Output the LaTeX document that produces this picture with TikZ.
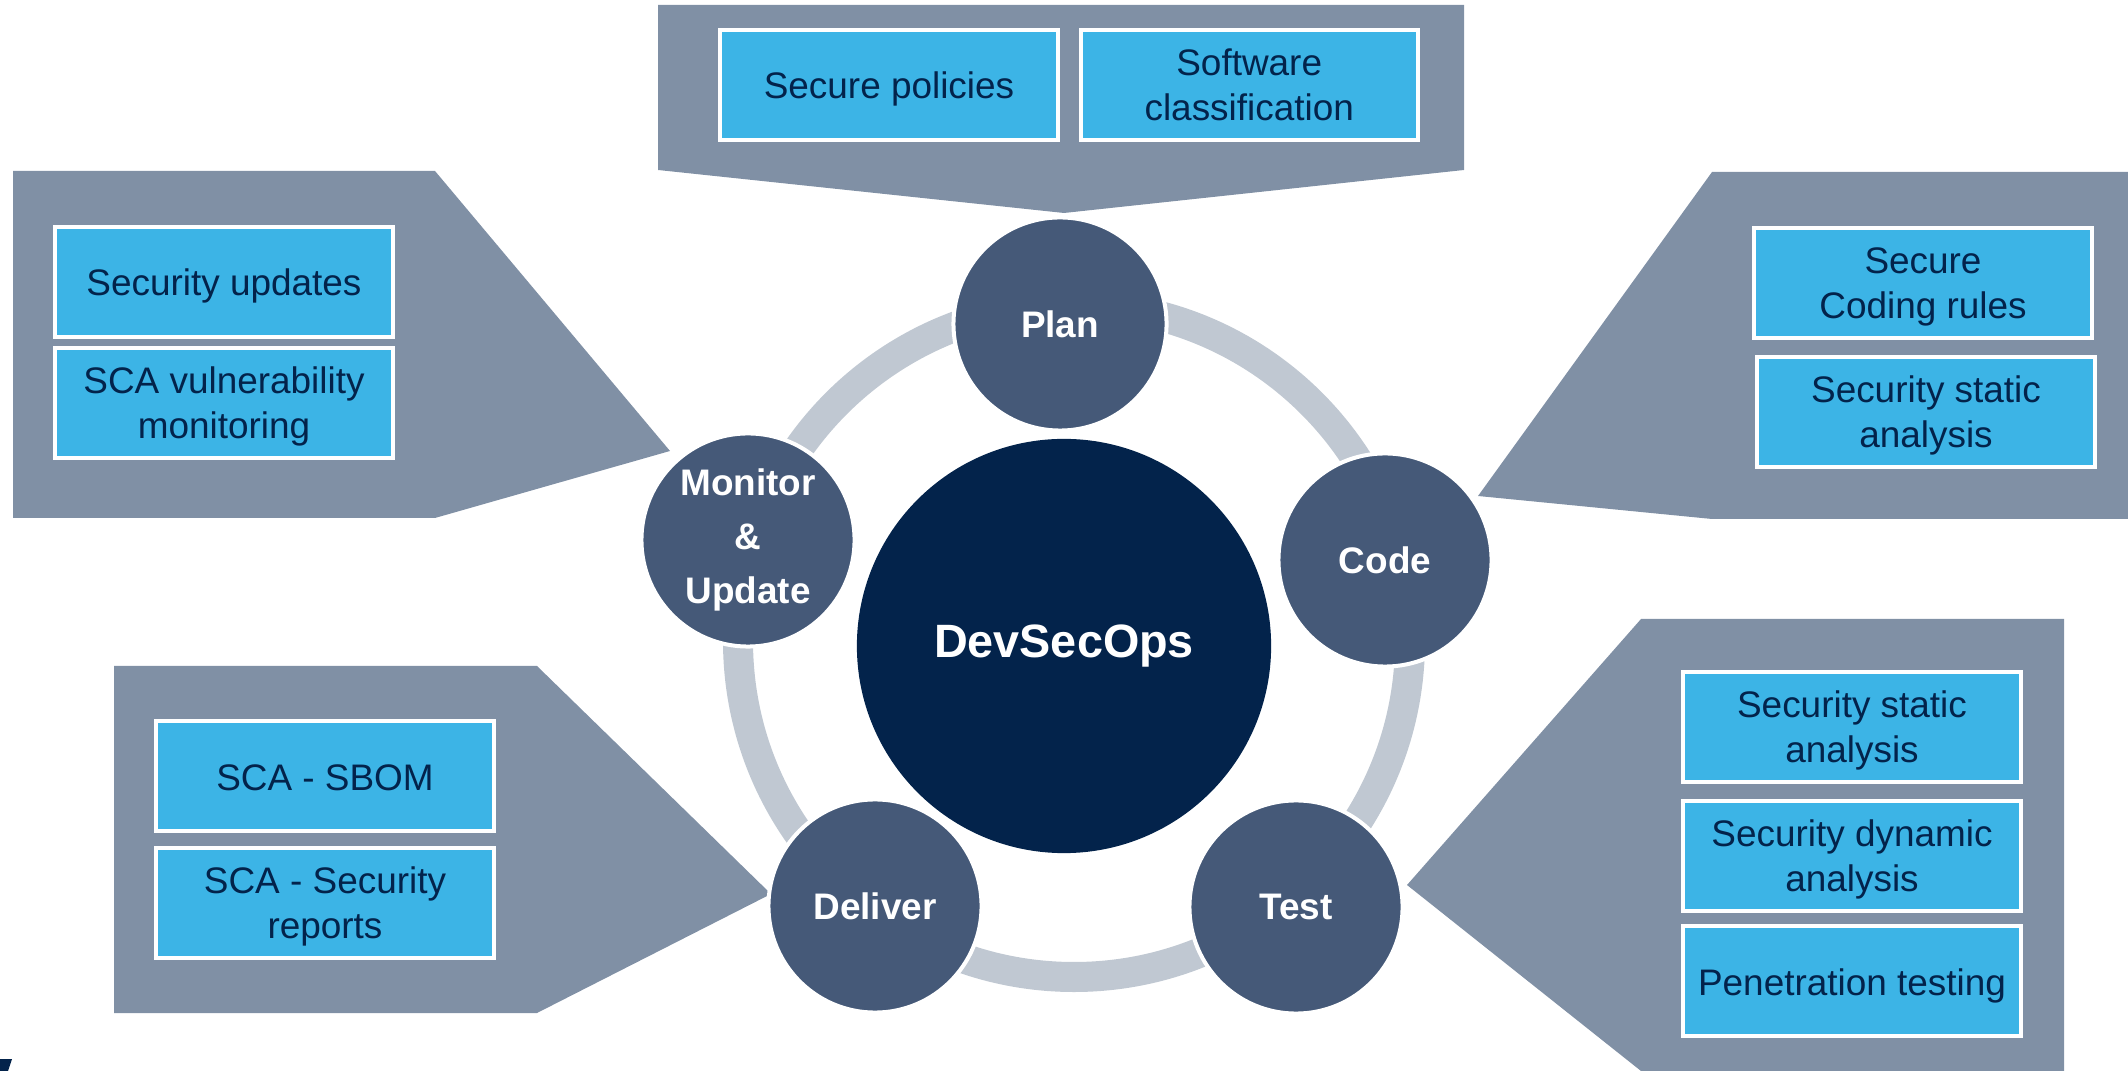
\documentclass[tikz,border=0pt]{standalone}
\usepackage{fontspec}
\setmainfont{Liberation Sans}
\usepackage{xcolor}
\usetikzlibrary{positioning}
\definecolor{stnavy}{RGB}{3,35,75}
\definecolor{stblue}{RGB}{60,180,230}
\definecolor{stslate}{RGB}{69,89,120}
\definecolor{stpanel}{RGB}{128,144,165}
\definecolor{stlight}{RGB}{192,200,210}

\begin{document}
\begin{tikzpicture}
		[x=0.01cm,y=-0.01cm,
		panel/.style={fill=stpanel},
		ring/.style={draw=stlight,line width=0.30cm},
		item/.style={rectangle,draw=white,fill=stblue,line width=0.04cm,inner sep=0pt,minimum width=3.37cm,minimum height=1.10cm,align=center,text=stnavy,font=\fontsize{10.5}{12.7}\selectfont},
		oneline/.style={text height=0.28cm,text depth=0pt},
		twoline/.style={text height=0.71cm,text depth=0pt},
		phase/.style={circle,draw=white,fill=stslate,line width=0.04cm,inner sep=0pt,minimum size=2.13cm,align=center,text=white,font=\fontsize{10.5}{15.4}\selectfont\bfseries},
		hub/.style={circle,fill=stnavy,inner sep=0pt,minimum size=4.14cm,text=white,font=\fontsize{13.3}{16}\selectfont\bfseries}]
		\useasboundingbox (0,0) rectangle (2128,1071);

		\fill [panel] (658,5) -- (1464,5) -- (1464,170) -- (1064,213) -- (658,170) -- cycle;
		\fill [panel] (13,171) -- (435,171) -- (670,451) -- (435,518) -- (13,518) -- cycle;
		\fill [panel] (1712,172) -- (2128,172) -- (2128,519) -- (1712,519) -- (1478,496) -- cycle;
		\fill [panel] (114,666) -- (537,666) -- (771,894) -- (537,1013) -- (114,1013) -- cycle;
		\fill [panel] (1641,619) -- (2064,619) -- (2064,1071) -- (1641,1071) -- (1407,885) -- cycle;
		\fill [stnavy] (0,1059) -- (12,1059) -- (8,1071) -- (0,1071) -- cycle;

		\node [item,oneline] (pol) at (889,85) {Secure policies};
		\node [item,twoline] (cls) [right=0.19cm of pol] {Software\\classification};

		\node [item,oneline] (upd) at (224,282) {Security updates};
		\node [item,twoline] (vul) [below=0.07cm of upd] {SCA vulnerability\\monitoring};

		\node [item,twoline] (rules) at (1923,283) {Secure\\Coding rules};
		\node [item,twoline] (sast) [below=0.15cm of rules,xshift=0.03cm] {Security static\\analysis};

		\node [item,oneline] (sbom) at (325,776) {SCA - SBOM};
		\node [item,twoline] (rep) [below=0.13cm of sbom] {SCA - Security\\reports};

		\node [item,twoline] (stat) at (1852,727) {Security static\\analysis};
		\node [item,twoline] (dyn) [below=0.15cm of stat] {Security dynamic\\analysis};
		\node [item,oneline] (pen) [below=0.11cm of dyn] {Penetration testing};

		\draw [ring] (1074,641) circle [radius=336];

		\node [hub] (dso) at (1064,646) {DevSecOps};
		\node [phase] (plan) at (1060,324) {Plan};
		\node [phase] (code) at (1385,560) {Code};
		\node [phase] (test) at (1296,907) {Test};
		\node [phase] (dlv) at (875,906) {Deliver};
		\node [phase] (mon) at (748,540) {Monitor\\\&\\Update};

	\end{tikzpicture}
\end{document}
